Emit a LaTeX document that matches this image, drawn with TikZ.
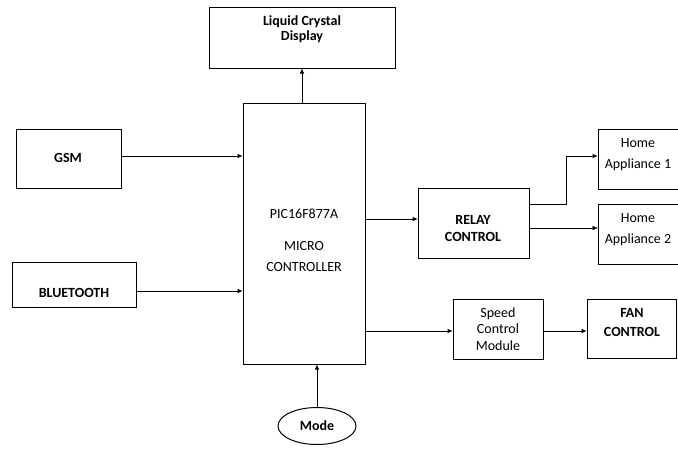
\documentclass[tikz,border=0pt]{standalone}
\usepackage{fontspec}
\setmainfont{Carlito}
\usetikzlibrary{arrows.meta,shapes.geometric}
\begin{document}
\begin{tikzpicture}[x=1pt,y=-1pt,
  box/.style={draw,line width=1pt,inner sep=0pt},
  lbl/.style={align=center,font=\fontsize{14}{20}\selectfont},
  blbl/.style={align=center,font=\fontsize{14}{17}\selectfont\bfseries},
  arr/.style={line width=1pt,-{Latex[length=5.5pt,width=4.5pt]}}]
\useasboundingbox (0,0) rectangle (678,450);
% boxes
\draw[box] (209,7) rectangle (395,68);
\node[blbl,font=\fontsize{14}{15}\selectfont\bfseries] (lcd) at (302,29) {Liquid Crystal\\Display};
\coordinate (lcdb) at (302,68);
\draw[box] (243,103) rectangle (365,364);
\node[lbl] (mc) at (304,214) {PIC16F877A};
\node[lbl,font=\fontsize{14}{21}\selectfont] (mc2) at (304,257) {MICRO\\CONTROLLER};
\draw[box] (16,129) rectangle (121,188);
\node[blbl] (gsm) at (68,158) {GSM};
\draw[box] (12,262) rectangle (136,307);
\node[blbl] (bt) at (74,293) {BLUETOOTH};
\draw[box] (418,188) rectangle (529,258);
\node[blbl] (relay) at (473,229) {RELAY\\CONTROL};
\draw[box] (598,129) rectangle (690,189);
\node[lbl,font=\fontsize{14}{21}\selectfont] (ha1) at (638,155) {Home\\Appliance 1};
\draw[box] (598,204) rectangle (690,264);
\node[lbl,font=\fontsize{14}{21}\selectfont] (ha2) at (638,230) {Home\\Appliance 2};
\draw[box] (453,299) rectangle (543,359);
\node[lbl,font=\fontsize{14}{16.5}\selectfont] (spd) at (498,329) {Speed\\Control\\Module};
\draw[box] (587,299) rectangle (676,358);
\node[blbl,font=\fontsize{14}{19}\selectfont\bfseries] (fan) at (632,323) {FAN\\CONTROL};
\node[draw,ellipse,line width=1pt,minimum width=78pt,minimum height=37pt,inner sep=0pt,font=\fontsize{14}{16}\selectfont\bfseries] (mode) at (317,426) {Mode};
% coordinates
\coordinate (mctop) at (302,103);
\coordinate (gsmr) at (121,156);
\coordinate (mcg) at (243,156);
\coordinate (btr) at (136,291);
\coordinate (mcb) at (243,291);
\coordinate (mcr1) at (365,219);
\coordinate (rl) at (418,219);
\coordinate (r1) at (529,204);
\coordinate (ha1l) at (598,156);
\coordinate (r2) at (529,228);
\coordinate (ha2l) at (598,228);
\coordinate (mcr2) at (365,331);
\coordinate (spl) at (453,331);
\coordinate (spr) at (543,331);
\coordinate (fanl) at (587,331);
\coordinate (mcbot) at (317,364);
% connectors
\draw[arr] (mctop) -- (lcdb);
\draw[arr] (gsmr) -- (mcg);
\draw[arr] (btr) -- (mcb);
\draw[arr] (mcr1) -- (rl);
\draw[arr] (r1) -- (566,204) -- (566,156) -- (ha1l);
\draw[arr,line width=0.5pt] (r2) -- (ha2l);
\draw[arr] (mcr2) -- (spl);
\draw[arr] (spr) -- (fanl);
\draw[arr] (mode.north) -- (mcbot);
\end{tikzpicture}
\end{document}
